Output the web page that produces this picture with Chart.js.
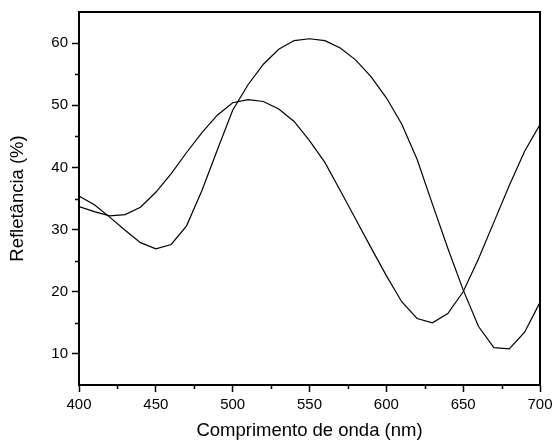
<!DOCTYPE html>
<html>
<head>
<meta charset="utf-8">
<script src="https://cdn.jsdelivr.net/npm/chart.js@4"></script>
<style>
  html, body { margin: 0; padding: 0; background: #fff; }
  #wrap { width: 552px; height: 442px; }
</style>
</head>
<body>
<div id="wrap"><canvas id="c"></canvas></div>
<script>
/* ── data ─────────────────────────────────────────────────── */
var wavelength = [400, 410, 420, 430, 440, 450, 460, 470, 480, 490, 500,
                  510, 520, 530, 540, 550, 560, 570, 580, 590, 600,
                  610, 620, 630, 640, 650, 660, 670, 680, 690, 700];
var curveA = [33.7, 32.9, 32.2, 32.4, 33.6, 36.0, 39.0, 42.4, 45.6, 48.4, 50.4,
              50.9, 50.6, 49.4, 47.4, 44.3, 40.8, 36.3, 31.7, 27.1, 22.6,
              18.4, 15.7, 15.0, 16.5, 20.0, 25.3, 31.2, 37.1, 42.6, 46.9];
var curveB = [35.4, 34.0, 32.0, 29.9, 27.9, 26.9, 27.6, 30.6, 36.3, 42.8, 49.2,
              53.3, 56.6, 59.0, 60.4, 60.7, 60.4, 59.2, 57.3, 54.6, 51.2,
              47.0, 41.3, 34.1, 27.0, 20.3, 14.4, 11.0, 10.8, 13.5, 18.3];
var xTicks = [400, 450, 500, 550, 600, 650, 700];
var xMinor = [425, 475, 525, 575, 625, 675];
var yTicks = [10, 20, 30, 40, 50, 60];
var yMinor = [15, 25, 35, 45, 55];

function pts(ys) {
  return wavelength.map(function (x, i) { return { x: x, y: ys[i] }; });
}

/* ── frame + minor ticks ─────────────────────────────────── */
var framePlugin = {
  id: "frame",
  afterDraw: function (chart) {
    var ctx = chart.ctx, a = chart.chartArea;
    var xs = chart.scales.x, ys = chart.scales.y;
    ctx.save();
    ctx.strokeStyle = "#000";
    ctx.lineWidth = 1.5;
    ctx.beginPath();
    xMinor.forEach(function (v) {
      var px = Math.round(xs.getPixelForValue(v)) + 0.5;
      ctx.moveTo(px, a.bottom); ctx.lineTo(px, a.bottom + 4);
    });
    yMinor.forEach(function (v) {
      var py = Math.round(ys.getPixelForValue(v)) + 0.5;
      ctx.moveTo(a.left, py); ctx.lineTo(a.left - 4, py);
    });
    ctx.stroke();
    ctx.lineWidth = 2;
    ctx.beginPath();
    ctx.moveTo(a.left, a.top); ctx.lineTo(a.right, a.top);
    ctx.lineTo(a.right, a.bottom);
    ctx.stroke();
    ctx.restore();
  }
};

var tickFont = { family: "'Liberation Sans', Arial, sans-serif", size: 15 };
var titleFont = { family: "'Liberation Sans', Arial, sans-serif", size: 18.5 };

new Chart(document.getElementById("c"), {
  type: "line",
  data: {
    datasets: [
      { data: pts(curveA), borderColor: "#000", borderWidth: 1.2, pointRadius: 0, tension: 0 },
      { data: pts(curveB), borderColor: "#000", borderWidth: 1.2, pointRadius: 0, tension: 0 }
    ]
  },
  options: {
    responsive: true,
    maintainAspectRatio: false,
    animation: false,
    layout: { padding: { top: 12, right: 12, left: 0, bottom: 0 } },
    plugins: { legend: { display: false }, tooltip: { enabled: false } },
    scales: {
      x: {
        type: "linear",
        min: 400, max: 700,
        afterBuildTicks: function (s) { s.ticks = xTicks.map(function (v) { return { value: v }; }); },
        afterFit: function (s) { s.height = 57; s.paddingLeft = 0; s.paddingRight = 0; },
        grid: { drawOnChartArea: false, tickLength: 7, tickColor: "#000", tickWidth: 1.5 },
        border: { display: true, color: "#000", width: 2 },
        ticks: { color: "#000", font: tickFont, padding: 4, maxRotation: 0 },
        title: { display: true, text: "Comprimento de onda (nm)", color: "#000",
                 font: titleFont, padding: { top: 0, bottom: 0 } }
      },
      y: {
        min: 5, max: 65,
        afterBuildTicks: function (s) { s.ticks = yTicks.map(function (v) { return { value: v }; }); },
        afterFit: function (s) { s.width = 79; s.paddingTop = 0; s.paddingBottom = 0; },
        grid: { drawOnChartArea: false, tickLength: 7, tickColor: "#000", tickWidth: 1.5 },
        border: { display: true, color: "#000", width: 2 },
        ticks: { color: "#000", font: tickFont, padding: 4 },
        title: { display: true, text: "Refletância (%)", color: "#000",
                 font: titleFont, padding: { top: 7, bottom: 0 } }
      }
    }
  },
  plugins: [framePlugin]
});
</script>
</body>
</html>
